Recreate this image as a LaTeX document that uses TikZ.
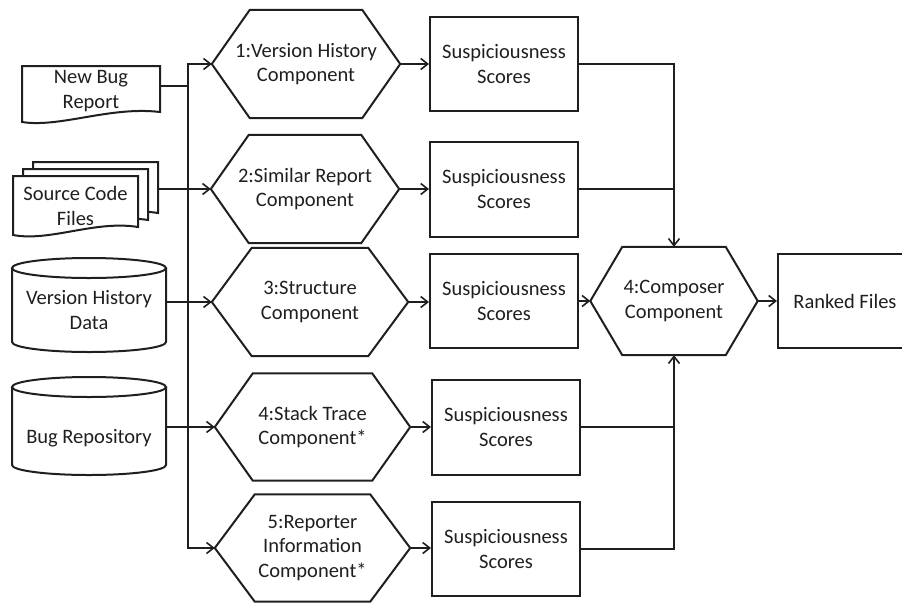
\documentclass[tikz,border=0pt]{standalone}
\usepackage{fontspec}
\setmainfont{Carlito}
\usetikzlibrary{arrows.meta}
\tikzset{
  shp/.style={line width=2pt, draw=black!88, line join=miter},
  conn/.style={line width=1.6pt, draw=black!88},
  arr/.style={conn, -{Straight Barb[length=7pt,width=11pt]}},
  txt/.style={rectangle, inner sep=0pt, align=center, text=black!88,
    font=\fontsize{20.5}{24.5}\selectfont},
  hexbox/.style={txt, minimum width=#1, minimum height=108pt},
  sbox/.style={txt, shp, draw, minimum width=148pt, minimum height=95pt},
}
\newcommand\hexoutline[2]{%
  \draw[shp] ([xshift=#2]#1.north west) -- ([xshift=-#2]#1.north east) -- (#1.east)
    -- ([xshift=-#2]#1.south east) -- ([xshift=#2]#1.south west) -- (#1.west) -- cycle;}
\begin{document}
\begin{tikzpicture}[x=1pt,y=-1pt]
\useasboundingbox (0,0) rectangle (902,603);
\clip (0,0) rectangle (902,603);

% ---------- inputs ----------
% New Bug Report (document)
\draw[shp] (22,66) -- (160,66) -- (160,112) .. controls (110,106) and (60,128) .. (22,122) -- cycle;
\node[txt, minimum width=138pt] (bug) at (91,91) {New Bug\\Report};

% Source Code Files (multi-document)
\foreach \dx/\dy in {20/-14, 10/-7, 0/0}{
  \draw[shp, fill=white, shift={(\dx,\dy)}] (13,176) -- (138,176) -- (138,227)
    .. controls (95,220) and (50,242) .. (13,235) -- cycle;}
\node[txt, minimum width=125pt] (src) at (75.5,206) {Source Code\\Files};
\coordinate (srcR) at ([xshift=20pt]src.east);

% Version History Data (cylinder)
\draw[shp] (12,268) -- (12,342) arc[start angle=180, end angle=360, x radius=77pt, y radius=10pt]
  -- (166,268);
\draw[shp] (89,268) ellipse [x radius=77pt, y radius=10pt];
\node[txt, minimum width=154pt] (vhd) at (89,310) {Version History\\Data};

% Bug Repository (cylinder)
\draw[shp] (12,387) -- (12,465) arc[start angle=180, end angle=360, x radius=77pt, y radius=10pt]
  -- (166,387);
\draw[shp] (89,387) ellipse [x radius=77pt, y radius=10pt];
\node[txt, minimum width=154pt] (repo) at (89,438) {Bug Repository};

% ---------- components ----------
\node[hexbox=188pt] (h1) at (306,64) {1:Version History\\Component};
\hexoutline{h1}{38pt}
\node[hexbox=188pt] (h2) at (305,189) {2:Similar Report\\Component};
\hexoutline{h2}{38pt}
\node[hexbox=196pt] (h3) at (310,302) {3:Structure\\Component};
\hexoutline{h3}{40pt}
\node[hexbox=195pt, minimum height=107pt] (h4) at (312.5,427) {4:Stack Trace\\Component*};
\hexoutline{h4}{38pt}
\node[hexbox=195pt, minimum height=107pt] (h5) at (312.5,548) {5:Reporter\\Information\\Component*};
\hexoutline{h5}{40pt}

% ---------- scores ----------
\node[sbox, minimum height=94pt] (s1) at (504,64) {Suspiciousness\\Scores};
\node[sbox] (s2) at (504,189) {Suspiciousness\\Scores};
\node[sbox, minimum height=94pt] (s3) at (504,301) {Suspiciousness\\Scores};
\node[sbox] (s4) at (506,427) {Suspiciousness\\Scores};
\node[sbox, minimum height=94pt] (s5) at (506,549) {Suspiciousness\\Scores};

% ---------- composer & output ----------
\node[hexbox=167pt] (comp) at (674,301) {4:Composer\\Component};
\hexoutline{comp}{32pt}
\node[txt, shp, draw, minimum width=134pt, minimum height=94pt] (ranked) at (845,301) {Ranked Files};

% ---------- connectors ----------
\coordinate (jb) at (188,86);
\draw[conn] (bug.east |- jb) -- (jb);
\draw[arr] (jb) -- (jb |- h1.west) -- (h1.west);
\draw[arr] (jb) -- (jb |- h5.west) -- (h5.west);
\draw[arr] (srcR |- h2.west) -- (h2.west);
\draw[arr] (vhd.east |- h3.west) -- (h3.west);
\draw[arr] (repo.east |- h4.west) -- (h4.west);

\foreach \i in {1,...,5}{\draw[arr] (h\i.east) -- (h\i.east -| s\i.west);}

\draw[arr] (s1.east) -| (comp.north);
\draw[conn] (s2.east) -- (s2.east -| comp.north);
\draw[arr] (s3.east) -- (s3.east -| comp.west);
\draw[conn] (s4.east) -- (s4.east -| comp.south);
\draw[arr] (s5.east) -| (comp.south);
\draw[arr] (comp.east) -- (comp.east -| ranked.west);
\end{tikzpicture}
\end{document}
